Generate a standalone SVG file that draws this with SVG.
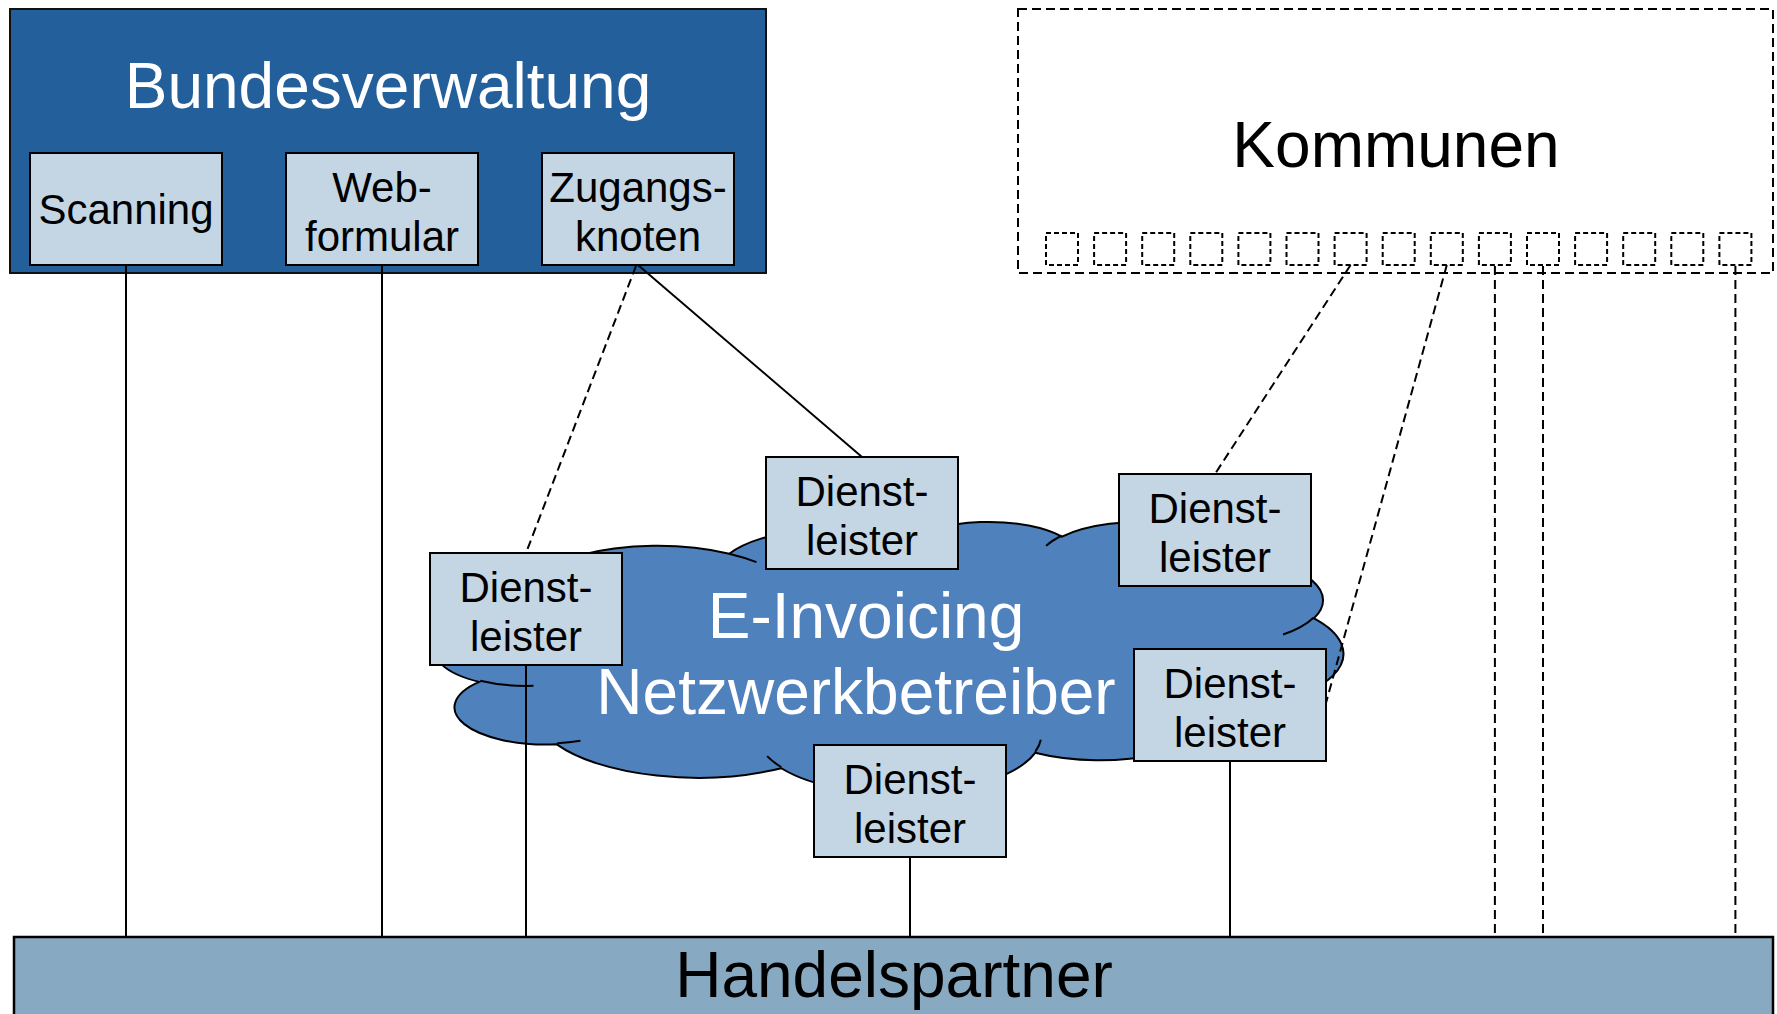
<svg xmlns="http://www.w3.org/2000/svg" width="1777" height="1014" viewBox="0 0 1777 1014">
<style>
text{font-family:"Liberation Sans",Arial,sans-serif;text-anchor:middle}
.big{font-size:64px}
.lbl{font-size:42px;fill:#000}
.sub{fill:#C4D6E3;stroke:#000;stroke-width:2}
.solid{stroke:#000;stroke-width:2;fill:none}
.dash{stroke:#000;stroke-width:2;fill:none;stroke-dasharray:9 5}
.sq{fill:none;stroke:#000;stroke-width:2;stroke-dasharray:5 3}
</style>
<rect width="1777" height="1014" fill="#fff"/>

<g id="bundesverwaltung">
<rect x="10" y="9" width="756" height="264" fill="#235F9B" stroke="#111" stroke-width="2"/>
<text class="big" x="388" y="108" fill="#fff">Bundesverwaltung</text>
</g>

<g id="kommunen">
<rect x="1018" y="9" width="755" height="264" fill="#fff" stroke="#000" stroke-width="2" stroke-dasharray="9 5"/>
<text class="big" x="1396" y="167" fill="#000">Kommunen</text>
<rect class="sq" x="1046" y="233" width="32" height="32"/>
<rect class="sq" x="1094.1" y="233" width="32" height="32"/>
<rect class="sq" x="1142.2" y="233" width="32" height="32"/>
<rect class="sq" x="1190.3" y="233" width="32" height="32"/>
<rect class="sq" x="1238.4" y="233" width="32" height="32"/>
<rect class="sq" x="1286.5" y="233" width="32" height="32"/>
<rect class="sq" x="1334.6" y="233" width="32" height="32"/>
<rect class="sq" x="1382.7" y="233" width="32" height="32"/>
<rect class="sq" x="1430.8" y="233" width="32" height="32"/>
<rect class="sq" x="1478.9" y="233" width="32" height="32"/>
<rect class="sq" x="1527" y="233" width="32" height="32"/>
<rect class="sq" x="1575.1" y="233" width="32" height="32"/>
<rect class="sq" x="1623.2" y="233" width="32" height="32"/>
<rect class="sq" x="1671.3" y="233" width="32" height="32"/>
<rect class="sq" x="1719.4" y="233" width="32" height="32"/>
</g>

<g id="cloud">
<g transform="translate(434.8,521) scale(0.021023,0.0062963)">
<path d="M3900 14370 A6753 9190 0 0 1 14006 5203 A5333 7267 0 0 1 22457 3434 A4365 5945 0 0 1 29834 2482 A4857 6595 0 0 1 38319 5578 A5333 7273 0 0 1 41820 15461 A6775 9220 0 0 1 37405 30203 A5785 7867 0 0 1 28557 36814 A6752 9215 0 0 1 16482 39266 A7720 10543 0 0 1 5804 35471 A4360 5918 0 0 1 2112 25550 A4345 5945 0 0 1 3862 14506 Z" fill="#4F81BD" stroke="#000" stroke-width="2" vector-effect="non-scaling-stroke"/>
<path d="M4693 26177 A4345 5945 0 0 1 2160 25380 M6928 34899 A4360 5918 0 0 1 5820 35281 M16478 39090 A6752 9215 0 0 1 15810 37349 M28827 34751 A6752 9215 0 0 1 28560 36660 M34129 22954 A5785 7867 0 0 1 37380 30090 M41798 15354 A5333 7273 0 0 1 40350 18031 M38324 5426 A4857 6595 0 0 1 38400 6690 M29078 3952 A4857 6595 0 0 1 29820 2340 M22141 4720 A4365 5945 0 0 1 22500 3331 M14000 5192 A6753 9190 0 0 1 15300 6541 M4127 15789 A6753 9190 0 0 1 3900 14370" fill="none" stroke="#000" stroke-width="2" vector-effect="non-scaling-stroke"/>
</g>
<text class="big" x="866" y="638" fill="#fff">E-Invoicing</text>
<text class="big" x="856" y="714" fill="#fff">Netzwerkbetreiber</text>
</g>

<g id="connectors">
<line class="solid" x1="126" y1="265" x2="126" y2="937"/>
<line class="solid" x1="382" y1="265" x2="382" y2="937"/>
<line class="solid" x1="638" y1="265" x2="862" y2="457"/>
<line class="dash" x1="636" y1="266" x2="526" y2="553"/>
<line class="solid" x1="526" y1="665" x2="526" y2="937"/>
<line class="solid" x1="910" y1="857" x2="910" y2="937"/>
<line class="solid" x1="1230" y1="761" x2="1230" y2="937"/>
<line class="dash" x1="1350.6" y1="265" x2="1215" y2="474"/>
<line class="dash" x1="1446.8" y1="265" x2="1326" y2="703"/>
<line class="dash" x1="1494.9" y1="266" x2="1494.9" y2="937"/>
<line class="dash" x1="1543" y1="266" x2="1543" y2="937"/>
<line class="dash" x1="1735.4" y1="266" x2="1735.4" y2="937"/>
</g>

<g id="scanning">
<rect class="sub" x="30" y="153" width="192" height="112"/>
<text class="lbl" x="126" y="224">Scanning</text>
</g>
<g id="webformular">
<rect class="sub" x="286" y="153" width="192" height="112"/>
<text class="lbl" x="382" y="202">Web-</text>
<text class="lbl" x="382" y="251">formular</text>
</g>
<g id="zugangsknoten">
<rect class="sub" x="542" y="153" width="192" height="112"/>
<text class="lbl" x="638" y="202">Zugangs-</text>
<text class="lbl" x="638" y="251">knoten</text>
</g>

<g id="dienstleister-links">
<rect class="sub" x="430" y="553" width="192" height="112"/>
<text class="lbl" x="526" y="602">Dienst-</text>
<text class="lbl" x="526" y="651">leister</text>
</g>
<g id="dienstleister-oben">
<rect class="sub" x="766" y="457" width="192" height="112"/>
<text class="lbl" x="862" y="506">Dienst-</text>
<text class="lbl" x="862" y="555">leister</text>
</g>
<g id="dienstleister-oben-rechts">
<rect class="sub" x="1119" y="474" width="192" height="112"/>
<text class="lbl" x="1215" y="523">Dienst-</text>
<text class="lbl" x="1215" y="572">leister</text>
</g>
<g id="dienstleister-rechts">
<rect class="sub" x="1134" y="649" width="192" height="112"/>
<text class="lbl" x="1230" y="698">Dienst-</text>
<text class="lbl" x="1230" y="747">leister</text>
</g>
<g id="dienstleister-unten">
<rect class="sub" x="814" y="745" width="192" height="112"/>
<text class="lbl" x="910" y="794">Dienst-</text>
<text class="lbl" x="910" y="843">leister</text>
</g>

<g id="handelspartner">
<rect x="14" y="937" width="1759" height="90" fill="#87A9C2" stroke="#000" stroke-width="2.5"/>
<text class="big" x="894" y="997" fill="#000">Handelspartner</text>
</g>
</svg>
